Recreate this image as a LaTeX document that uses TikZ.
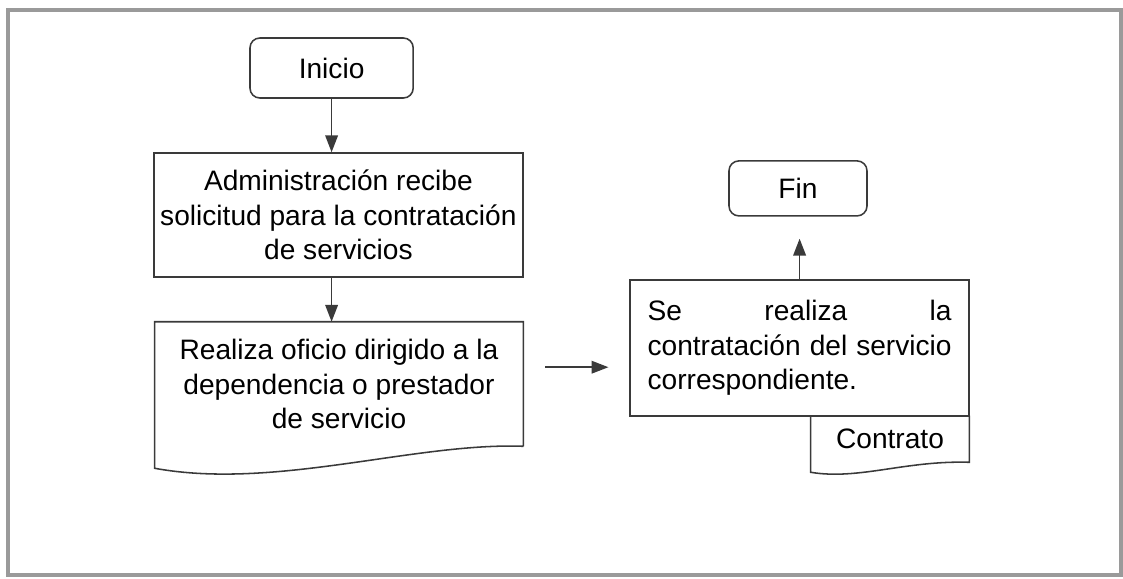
\documentclass[tikz,border=0pt]{standalone}
\usepackage{fontspec}
\setmainfont{Liberation Sans}
\usepackage{tikz}
\usetikzlibrary{arrows.meta, calc, positioning}
\definecolor{Ink}      {HTML}{3A3A3A}
\definecolor{FrameGrey}{HTML}{9A9A9A}
\tikzset{
  flow arrow/.style={-{Triangle[length=12pt,width=9pt]}, line width=1.1pt, Ink},
}

\begin{document}
\begin{tikzpicture}[font=\fontsize{20}{24.5}\selectfont,
    term/.style={draw=Ink, line width=1.1pt, rounded corners=7pt,
                 align=center, inner sep=2pt},
    proc/.style={draw=Ink, line width=1.1pt, align=center, inner sep=2pt},
    docbox/.style={align=center, inner sep=2pt}]
  \useasboundingbox (0,0) rectangle (28.075,-14.45);
  % Frame
  \draw[FrameGrey, line width=2.2pt] (0.2,-0.25) rectangle (28.025,-14.375);
  % Nodes
  \node[term] (inicio) at (8.29,-1.70)
      [minimum width=4.08cm, minimum height=1.5cm] {Inicio};
  \node[proc] (admin) at (8.46,-5.375)
      [minimum width=9.22cm, minimum height=3.1cm]
      {Administración recibe\\solicitud para la contratación\\de servicios};
  \node[docbox] (oficio) at (8.475,-9.6)
      [minimum width=9.2cm, minimum height=3.1cm]
      {Realiza oficio dirigido a la\\dependencia o prestador\\de servicio};
  \node[proc, align=left, text width=7.6cm] (contratacion) at (19.99,-8.7)
      [minimum width=8.48cm, minimum height=3.4cm]
      {\makebox[\linewidth]{Se\hfill realiza\hfill la}\\
       \makebox[\linewidth]{contratación\hfill del\hfill servicio}\\
       correspondiente.};
  \node[docbox] (contrato) at (22.25,-10.975)
      [minimum width=3.95cm, minimum height=1.15cm] {Contrato};
  \node[term] (fin) at (19.95,-4.71)
      [minimum width=3.45cm, minimum height=1.375cm] {Fin};
  % Document outlines
  \draw[Ink, line width=1.1pt] (oficio.south east) -- (oficio.north east)
      -- (oficio.north west) -- ($(oficio.south west)+(0,-0.55)$)
      .. controls ($(oficio.south west)+(3.0,-1.1)$)
         and ($(oficio.south west)+(6.5,0.1)$) .. (oficio.south east);
  \draw[Ink, line width=1.1pt] (contrato.north east) -- (contrato.south east)
      .. controls ($(contrato.south east)+(-1.6,0.05)$)
         and ($(contrato.south west)+(1.2,-0.45)$)
      .. ($(contrato.south west)+(0,-0.25)$) -- (contrato.north west);
  % Arrows
  \draw[flow arrow] (inicio.south) -- (inicio.south |- admin.north);
  \draw[flow arrow] (inicio.south |- admin.south) -- (inicio.south |- oficio.north);
  \draw[flow arrow, shorten <=0.55cm, shorten >=0.52cm]
      ([yshift=0.42cm]oficio.east) -- ([yshift=0.42cm]oficio.east -| contratacion.west);
  \draw[flow arrow, shorten >=0.55cm] (contratacion.north) -- (contratacion.north |- fin.south);
\end{tikzpicture}
\end{document}
